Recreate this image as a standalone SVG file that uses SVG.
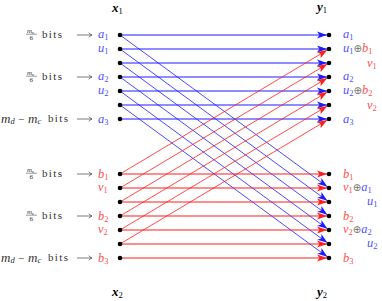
<svg xmlns="http://www.w3.org/2000/svg" width="382" height="301" viewBox="0 0 382 301" font-family="'Liberation Serif', 'DejaVu Serif', serif">
<style>
.bl{stroke:#1c1cff;fill:none}
.rd{stroke:#ff1c1c;fill:none}
.h{stroke-width:1.1}
.d{stroke-width:0.8}
.dot{fill:#000}
.m{font-family:'Liberation Serif','DejaVu Serif',serif;font-style:italic;font-size:12.5px}
.sub{font-size:8.5px;font-style:normal}
.lb{fill:#4f4fff}
.lr{fill:#ff4f4f}
.op{font-family:'DejaVu Sans',sans-serif;font-style:normal;font-size:10px;fill:#707070}
.txt{font-family:'Liberation Serif','DejaVu Serif',serif;font-size:11px;fill:#333}
.fr{font-family:'Liberation Serif','DejaVu Serif',serif;font-size:7px;fill:#333}
.hd{font-family:'Liberation Serif','DejaVu Serif',serif;font-style:italic;font-weight:bold;font-size:13px;fill:#000}
.ar{stroke:#444;stroke-width:0.7;fill:none}
.bar{stroke:#333;stroke-width:0.5}
</style>
<defs>
<marker id="mb" viewBox="-11 -4 13 8" refX="2" refY="0" markerWidth="13" markerHeight="8" markerUnits="userSpaceOnUse" orient="auto"><path d="M0,0 L-10,-3.6 L-7.5,0 L-10,3.6Z" fill="#1c1cff"/></marker>
<marker id="mr" viewBox="-11 -4 13 8" refX="2" refY="0" markerWidth="13" markerHeight="8" markerUnits="userSpaceOnUse" orient="auto"><path d="M0,0 L-10,-3.6 L-7.5,0 L-10,3.6Z" fill="#ff1c1c"/></marker>
</defs>

<g id="connectors">
<g class="bl h" marker-end="url(#mb)">
<line x1="120" y1="35" x2="329" y2="35"/>
<line x1="120" y1="49" x2="329" y2="49"/>
<line x1="120" y1="63" x2="329" y2="63"/>
<line x1="120" y1="77" x2="329" y2="77"/>
<line x1="120" y1="91" x2="329" y2="91"/>
<line x1="120" y1="105" x2="329" y2="105"/>
<line x1="120" y1="119" x2="329" y2="119"/>
</g>
<g class="bl d" marker-end="url(#mb)">
<line x1="120" y1="35" x2="329" y2="188"/>
<line x1="120" y1="49" x2="329" y2="202"/>
<line x1="120" y1="63" x2="329" y2="216"/>
<line x1="120" y1="77" x2="329" y2="230"/>
<line x1="120" y1="91" x2="329" y2="244"/>
<line x1="120" y1="105" x2="329" y2="258"/>
</g>
<g class="rd h" marker-end="url(#mr)">
<line x1="120" y1="174" x2="329" y2="174"/>
<line x1="120" y1="188" x2="329" y2="188"/>
<line x1="120" y1="202" x2="329" y2="202"/>
<line x1="120" y1="216" x2="329" y2="216"/>
<line x1="120" y1="230" x2="329" y2="230"/>
<line x1="120" y1="244" x2="329" y2="244"/>
<line x1="120" y1="258" x2="329" y2="258"/>
</g>
<g class="rd d" marker-end="url(#mr)">
<line x1="120" y1="174" x2="329" y2="49"/>
<line x1="120" y1="188" x2="329" y2="63"/>
<line x1="120" y1="202" x2="329" y2="77"/>
<line x1="120" y1="216" x2="329" y2="91"/>
<line x1="120" y1="230" x2="329" y2="105"/>
<line x1="120" y1="244" x2="329" y2="119"/>
</g>
</g>

<g id="x1">
<text class="hd" x="112" y="11.5">x<tspan class="sub" font-weight="normal" dy="2">1</tspan></text>
<g class="dot">
<circle cx="120" cy="35" r="2.3"/><circle cx="120" cy="49" r="2.3"/><circle cx="120" cy="63" r="2.3"/><circle cx="120" cy="77" r="2.3"/><circle cx="120" cy="91" r="2.3"/><circle cx="120" cy="105" r="2.3"/><circle cx="120" cy="119" r="2.3"/>
</g>
<g class="m lb">
<text x="98" y="38">a<tspan class="sub" dy="2">1</tspan></text>
<text x="98" y="52">u<tspan class="sub" dy="2">1</tspan></text>
<text x="98" y="80">a<tspan class="sub" dy="2">2</tspan></text>
<text x="98" y="94">u<tspan class="sub" dy="2">2</tspan></text>
<text x="98" y="122.5">a<tspan class="sub" dy="2">3</tspan></text>
</g>
</g>

<g id="x2">
<text class="hd" x="112" y="296">x<tspan class="sub" font-weight="normal" dy="2">2</tspan></text>
<g class="dot">
<circle cx="120" cy="174" r="2.3"/><circle cx="120" cy="188" r="2.3"/><circle cx="120" cy="202" r="2.3"/><circle cx="120" cy="216" r="2.3"/><circle cx="120" cy="230" r="2.3"/><circle cx="120" cy="244" r="2.3"/><circle cx="120" cy="258" r="2.3"/>
</g>
<g class="m lr">
<text x="98" y="177.5">b<tspan class="sub" dy="2">1</tspan></text>
<text x="98" y="191">v<tspan class="sub" dy="2">1</tspan></text>
<text x="98" y="219.5">b<tspan class="sub" dy="2">2</tspan></text>
<text x="98" y="233">v<tspan class="sub" dy="2">2</tspan></text>
<text x="98" y="261.5">b<tspan class="sub" dy="2">3</tspan></text>
</g>
</g>

<g id="y1">
<text class="hd" x="317" y="11">y<tspan class="sub" font-weight="normal" dy="2">1</tspan></text>
<g class="dot">
<circle cx="329" cy="35" r="2.3"/><circle cx="329" cy="49" r="2.3"/><circle cx="329" cy="63" r="2.3"/><circle cx="329" cy="77" r="2.3"/><circle cx="329" cy="91" r="2.3"/><circle cx="329" cy="105" r="2.3"/><circle cx="329" cy="119" r="2.3"/>
</g>
<g class="m">
<text class="lb" x="343" y="38">a<tspan class="sub" dy="2">1</tspan></text>
<text x="343" y="52"><tspan class="lb">u</tspan><tspan class="sub lb" dy="2">1</tspan><tspan class="op" dy="-2">⊕</tspan><tspan class="lr">b</tspan><tspan class="sub lr" dy="2">1</tspan></text>
<text class="lr" x="367" y="66.5">v<tspan class="sub" dy="2">1</tspan></text>
<text class="lb" x="343" y="80">a<tspan class="sub" dy="2">2</tspan></text>
<text x="343" y="94"><tspan class="lb">u</tspan><tspan class="sub lb" dy="2">2</tspan><tspan class="op" dy="-2">⊕</tspan><tspan class="lr">b</tspan><tspan class="sub lr" dy="2">2</tspan></text>
<text class="lr" x="367" y="108.5">v<tspan class="sub" dy="2">2</tspan></text>
<text class="lb" x="343" y="123">a<tspan class="sub" dy="2">3</tspan></text>
</g>
</g>

<g id="y2">
<text class="hd" x="317" y="295.5">y<tspan class="sub" font-weight="normal" dy="2">2</tspan></text>
<g class="dot">
<circle cx="329" cy="174" r="2.3"/><circle cx="329" cy="188" r="2.3"/><circle cx="329" cy="202" r="2.3"/><circle cx="329" cy="216" r="2.3"/><circle cx="329" cy="230" r="2.3"/><circle cx="329" cy="244" r="2.3"/><circle cx="329" cy="258" r="2.3"/>
</g>
<g class="m">
<text class="lr" x="343" y="177.5">b<tspan class="sub" dy="2">1</tspan></text>
<text x="343" y="191"><tspan class="lr">v</tspan><tspan class="sub lr" dy="2">1</tspan><tspan class="op" dy="-2">⊕</tspan><tspan class="lb">a</tspan><tspan class="sub lb" dy="2">1</tspan></text>
<text class="lb" x="367" y="205">u<tspan class="sub" dy="2">1</tspan></text>
<text class="lr" x="343" y="219.5">b<tspan class="sub" dy="2">2</tspan></text>
<text x="343" y="233"><tspan class="lr">v</tspan><tspan class="sub lr" dy="2">2</tspan><tspan class="op" dy="-2">⊕</tspan><tspan class="lb">a</tspan><tspan class="sub lb" dy="2">2</tspan></text>
<text class="lb" x="367" y="247">u<tspan class="sub" dy="2">2</tspan></text>
<text class="lr" x="343" y="262">b<tspan class="sub" dy="2">3</tspan></text>
</g>
</g>

<g id="bit-labels">
<g id="lab-a1">
<text class="fr" x="27" y="32.5"><tspan font-style="italic">m</tspan><tspan font-size="5px" dy="1">c</tspan></text>
<line class="bar" x1="26" y1="34.2" x2="37" y2="34.2"/>
<text class="fr" x="29.5" y="40">6</text>
<text class="txt" x="42" y="38.3" textLength="20">bits</text>
<path class="ar" d="M77,35 H92 M88.8,32.6 Q90,34.4 92,35 Q90,35.6 88.8,37.4"/>
</g>
<g id="lab-a2">
<text class="fr" x="27" y="74.5"><tspan font-style="italic">m</tspan><tspan font-size="5px" dy="1">c</tspan></text>
<line class="bar" x1="26" y1="76.2" x2="37" y2="76.2"/>
<text class="fr" x="29.5" y="82">6</text>
<text class="txt" x="42" y="80.3" textLength="20">bits</text>
<path class="ar" d="M77,77 H92 M88.8,74.6 Q90,76.4 92,77 Q90,77.6 88.8,79.4"/>
</g>
<g id="lab-a3">
<text class="txt" x="1" y="122.5"><tspan font-style="italic" font-size="13px">m</tspan><tspan font-style="italic" font-size="8.5px" dy="1.5">d</tspan></text>
<text class="txt" x="18" y="122.5" font-size="12px">−</text>
<text class="txt" x="28" y="122.5"><tspan font-style="italic" font-size="13px">m</tspan><tspan font-style="italic" font-size="8.5px" dy="1.5">c</tspan></text>
<text class="txt" x="48" y="122.3" textLength="20">bits</text>
<path class="ar" d="M77,119 H92 M88.8,116.6 Q90,118.4 92,119 Q90,119.6 88.8,121.4"/>
</g>
<g id="lab-b1">
<text class="fr" x="27" y="171.5"><tspan font-style="italic">m</tspan><tspan font-size="5px" dy="1">c</tspan></text>
<line class="bar" x1="26" y1="173.2" x2="37" y2="173.2"/>
<text class="fr" x="29.5" y="179">6</text>
<text class="txt" x="42" y="177.3" textLength="20">bits</text>
<path class="ar" d="M77,174 H92 M88.8,171.6 Q90,173.4 92,174 Q90,174.6 88.8,176.4"/>
</g>
<g id="lab-b2">
<text class="fr" x="27" y="213.5"><tspan font-style="italic">m</tspan><tspan font-size="5px" dy="1">c</tspan></text>
<line class="bar" x1="26" y1="215.2" x2="37" y2="215.2"/>
<text class="fr" x="29.5" y="221">6</text>
<text class="txt" x="42" y="219.3" textLength="20">bits</text>
<path class="ar" d="M77,216 H92 M88.8,213.6 Q90,215.4 92,216 Q90,216.6 88.8,218.4"/>
</g>
<g id="lab-b3">
<text class="txt" x="1" y="261.5"><tspan font-style="italic" font-size="13px">m</tspan><tspan font-style="italic" font-size="8.5px" dy="1.5">d</tspan></text>
<text class="txt" x="18" y="261.5" font-size="12px">−</text>
<text class="txt" x="28" y="261.5"><tspan font-style="italic" font-size="13px">m</tspan><tspan font-style="italic" font-size="8.5px" dy="1.5">c</tspan></text>
<text class="txt" x="48" y="261.3" textLength="20">bits</text>
<path class="ar" d="M77,258 H92 M88.8,255.6 Q90,257.4 92,258 Q90,258.6 88.8,260.4"/>
</g>
</g>
</svg>
